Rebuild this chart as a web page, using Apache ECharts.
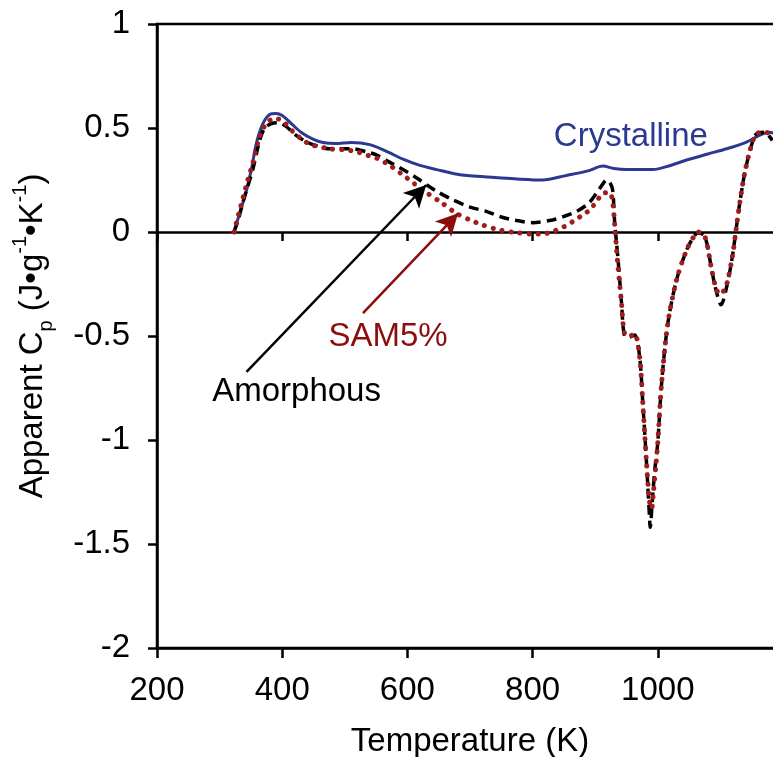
<!DOCTYPE html>
<html>
<head>
<meta charset="utf-8">
<script src="https://cdn.jsdelivr.net/npm/echarts@6/dist/echarts.min.js"></script>
<style>
  html, body { margin: 0; padding: 0; background: #fff; overflow: hidden; }
  #chart { width: 790px; height: 757px; }
</style>
</head>
<body>
<div id="chart"></div>
<script>
var xTicks = [200, 400, 600, 800, 1000, 1200];
var yTicks = [-2, -1.5, -1, -0.5, 0, 0.5, 1];

var crystT = [323, 333, 343, 352, 359, 369, 380, 390, 400, 415, 430, 450, 465, 485, 510, 540, 565, 593, 620, 647, 675, 700, 740, 775, 816, 854, 890, 912, 930, 950, 992, 1020, 1046, 1080, 1110, 1140, 1178, 1190];
var crystCp = [0, 0.1, 0.2, 0.32, 0.43, 0.52, 0.565, 0.57, 0.56, 0.52, 0.48, 0.445, 0.43, 0.425, 0.43, 0.42, 0.39, 0.35, 0.32, 0.30, 0.28, 0.27, 0.262, 0.255, 0.25, 0.272, 0.295, 0.317, 0.305, 0.30, 0.30, 0.32, 0.346, 0.375, 0.40, 0.43, 0.48, 0.47];

var amorT = [323, 330, 337, 345, 353, 364, 372, 382, 393, 405, 420, 435, 449, 476, 500, 513, 535, 551, 575, 599, 615, 631, 650, 673, 700, 727, 750, 775, 800, 832, 850, 870, 890, 902, 912, 918, 924, 928, 931, 934, 937, 942, 947, 955, 963, 971, 976, 982, 986, 988, 991, 995, 1000, 1006, 1016, 1030, 1046, 1058, 1064, 1075, 1086, 1093, 1101, 1111, 1119, 1125, 1130, 1138, 1148, 1157, 1170, 1183];
var amorCp = [0, 0.06, 0.14, 0.22, 0.30, 0.44, 0.50, 0.52, 0.525, 0.51, 0.47, 0.44, 0.42, 0.40, 0.40, 0.40, 0.385, 0.37, 0.33, 0.29, 0.26, 0.226, 0.19, 0.154, 0.12, 0.098, 0.072, 0.055, 0.045, 0.058, 0.075, 0.098, 0.14, 0.187, 0.23, 0.25, 0.235, 0.2, 0.05, -0.05, -0.15, -0.34, -0.50, -0.505, -0.495, -0.60, -0.82, -1.11, -1.33, -1.42, -1.30, -1.15, -1.01, -0.73, -0.44, -0.23, -0.087, -0.02, -0.005, -0.02, -0.18, -0.28, -0.35, -0.25, -0.12, 0.01, 0.12, 0.27, 0.40, 0.47, 0.48, 0.44];

var samT = [323, 330, 337, 345, 353, 362, 372, 382, 391, 402, 418, 432, 446, 476, 500, 519, 535, 551, 572, 593, 612, 630, 655, 678, 700, 720, 747, 774, 800, 815, 832, 850, 864, 878, 891, 903, 912, 923, 928, 932, 936, 942, 947, 955, 963, 971, 976, 982, 987, 990, 993, 997, 1000, 1006, 1016, 1030, 1046, 1058, 1064, 1075, 1086, 1093, 1099, 1106, 1111, 1119, 1125, 1130, 1138, 1148, 1157, 1170, 1183];
var samCp = [0, 0.08, 0.16, 0.25, 0.33, 0.44, 0.51, 0.54, 0.545, 0.53, 0.48, 0.445, 0.42, 0.40, 0.395, 0.386, 0.37, 0.355, 0.32, 0.274, 0.23, 0.19, 0.14, 0.09, 0.058, 0.034, 0.01, -0.003, -0.01, -0.01, 0.002, 0.025, 0.05, 0.078, 0.106, 0.15, 0.186, 0.19, 0.14, 0.0, -0.15, -0.34, -0.49, -0.50, -0.49, -0.60, -0.82, -1.11, -1.30, -1.33, -1.25, -1.12, -1.01, -0.73, -0.44, -0.23, -0.087, -0.02, 0.0, -0.02, -0.18, -0.27, -0.30, -0.28, -0.24, -0.12, 0.01, 0.12, 0.27, 0.40, 0.47, 0.48, 0.47];

function pairs(xs, ys) {
  var out = [];
  for (var i = 0; i < xs.length; i++) out.push([xs[i], ys[i]]);
  return out;
}

var FONT = "'Liberation Sans', Arial, sans-serif";
var FS = 33;
var BLUE = "#2b3990";
var RED = "#a01d1d";
var DARKRED = "#8b0d0d";

var chart = echarts.init(document.getElementById("chart"));

var option = {
  animation: false,
  textStyle: { fontFamily: FONT },
  // plot runs past the right edge of the 773px window, like the source figure
  grid: {
    left: 157, right: 7, top: 24, bottom: 109,
    outerBoundsMode: "none",
    show: true, borderColor: "#000", borderWidth: 2.5
  },
  xAxis: [
    {
      // line through zero, ticks pointing down
      type: "value", position: "top",
      min: xTicks[0], max: xTicks[xTicks.length - 1], interval: 200,
      axisLine: { onZero: true, lineStyle: { color: "#000", width: 2.5 } },
      axisTick: { inside: true, length: 9, lineStyle: { color: "#000", width: 2.5 } },
      axisLabel: { show: false },
      splitLine: { show: false }
    },
    {
      type: "value", position: "bottom",
      min: xTicks[0], max: xTicks[xTicks.length - 1], interval: 200,
      name: "Temperature (K)", nameLocation: "middle", nameGap: 77,
      nameTextStyle: { fontSize: FS, color: "#000", fontFamily: FONT },
      axisLine: { onZero: false, lineStyle: { color: "#000", width: 2.5 } },
      axisTick: { length: 10, lineStyle: { color: "#000", width: 2.5 } },
      axisLabel: {
        fontSize: FS, color: "#000", margin: 26, fontFamily: FONT,
        formatter: function (v) { return v >= 1200 ? "" : String(v); }
      },
      splitLine: { show: false }
    }
  ],
  yAxis: {
    type: "value", min: yTicks[0], max: yTicks[yTicks.length - 1], interval: 0.5,
    name: "Apparent C{sub|p} (J•g{sup|-1}•K{sup|-1})",
    nameLocation: "middle", nameGap: 101, nameRotate: 90,
    nameTextStyle: {
      fontSize: FS, color: "#000", fontFamily: FONT,
      rich: {
        sub: { fontSize: 20, lineHeight: 46, verticalAlign: "bottom", color: "#000", fontFamily: FONT },
        sup: { fontSize: 20, lineHeight: 42, verticalAlign: "top", color: "#000", fontFamily: FONT }
      }
    },
    axisLine: { onZero: false, lineStyle: { color: "#000", width: 2.5 } },
    axisTick: { length: 9, lineStyle: { color: "#000", width: 2.5 } },
    axisLabel: { fontSize: FS, color: "#000", margin: 27, fontFamily: FONT },
    splitLine: { show: false }
  },
  series: [
    {
      name: "Crystalline", type: "line", xAxisIndex: 1, smooth: 0.3,
      showSymbol: false, data: pairs(crystT, crystCp),
      lineStyle: { color: BLUE, width: 3 }, itemStyle: { color: BLUE },
      markPoint: {
        symbol: "circle", symbolSize: 0.1, silent: true,
        data: [{ coord: [957, 0.457], value: "Crystalline" }],
        label: { show: true, position: "inside", formatter: "Crystalline", fontSize: FS, color: BLUE, fontFamily: FONT }
      }
    },
    {
      name: "Amorphous", type: "line", xAxisIndex: 1, smooth: 0.3,
      showSymbol: false, data: pairs(amorT, amorCp),
      lineStyle: { color: "#000", width: 3.5, type: [10, 6] }, itemStyle: { color: "#000" },
      markLine: {
        silent: true, symbol: ["none", "arrow"], symbolSize: [17, 22],
        label: { show: false },
        lineStyle: { color: "#000", width: 2.5, type: "solid" },
        data: [[{ coord: [343, -0.672] }, { coord: [630, 0.226] }]]
      },
      markPoint: {
        symbol: "circle", symbolSize: 0.1, silent: true,
        data: [{ coord: [423, -0.77], value: "Amorphous" }],
        label: { show: true, position: "inside", formatter: "Amorphous", fontSize: FS, color: "#000", fontFamily: FONT }
      }
    },
    {
      name: "SAM5%", type: "line", xAxisIndex: 1, smooth: 0.3,
      showSymbol: false, data: pairs(samT, samCp),
      lineStyle: { color: RED, width: 5, type: [0.1, 9], cap: "round" }, itemStyle: { color: RED },
      markLine: {
        silent: true, symbol: ["none", "arrow"], symbolSize: [17, 22],
        label: { show: false },
        lineStyle: { color: DARKRED, width: 2.5, type: "solid", cap: "butt" },
        data: [[{ coord: [529, -0.39] }, { coord: [681, 0.09] }]]
      },
      markPoint: {
        symbol: "circle", symbolSize: 0.1, silent: true,
        data: [{ coord: [569, -0.505], value: "SAM5%" }],
        label: { show: true, position: "inside", formatter: "SAM5%", fontSize: FS, color: DARKRED, fontFamily: FONT }
      }
    }
  ]
};

chart.setOption(option);
</script>
</body>
</html>
